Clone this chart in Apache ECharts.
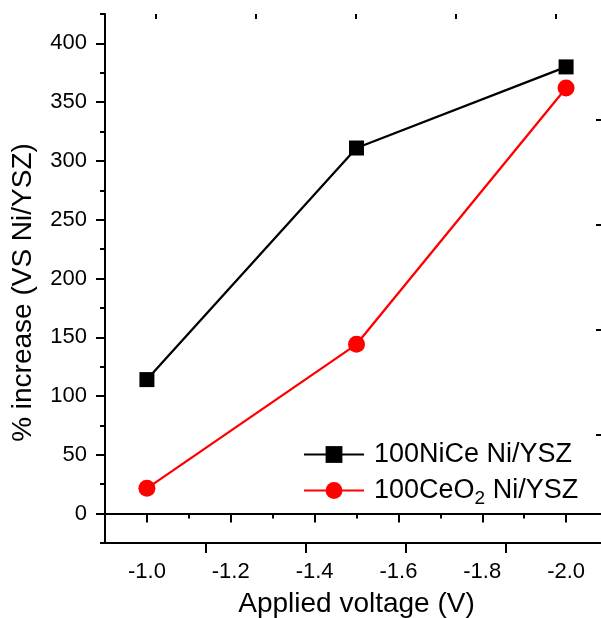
<!DOCTYPE html>
<html>
<head>
<meta charset="utf-8">
<script src="https://cdn.jsdelivr.net/npm/echarts@6/dist/echarts.min.js"></script>
<style>
html,body{margin:0;padding:0;background:#fff;}
#chart{width:601px;height:618px;}
</style>
</head>
<body>
<div id="chart"></div>
<script>
// ---- data ----
const voltages = [-1.0, -1.5, -2.0];
const niCeValues = [114, 311, 380];
const ceo2Values = [21.5, 144, 362];
const seriesNames = ['100NiCe Ni/YSZ', '100CeO2 Ni/YSZ'];
const xMajorTicks = [-1.0, -1.2, -1.4, -1.6, -1.8, -2.0];
const xMinorTicks = [-0.9, -1.1, -1.3, -1.5, -1.7, -1.9, -2.1];
const yMajorTicks = [0, 50, 100, 150, 200, 250, 300, 350, 400];
const yMinorTicks = [-25, 25, 75, 125, 175, 225, 275, 325, 375, 425];
const topMajorTicks = [101, 201, 301, 401];
const topMinorTicks = [51, 151, 251, 351, 451];
const rightMajorTicks = [108, 213, 318, 423];

const FONT = 'Liberation Sans';
const BLACK = '#000000';
const RED = '#ff0000';
const TICK_FONT = 22;

const chart = echarts.init(document.getElementById('chart'), null, {renderer: 'canvas'});

const lineAxis = {show: true, lineStyle: {color: BLACK, width: 2}};
const noLine = {show: false};
const tickRich = {t: {fontSize: TICK_FONT, fontFamily: FONT, color: BLACK, lineHeight: 24}};

const option = {
  backgroundColor: '#ffffff',
  animation: false,
  textStyle: {fontFamily: FONT, color: BLACK},
  grid: {left: 105, top: 14, width: 503, height: 529, outerBoundsMode: 'none', containLabel: false},
  legend: {
    orient: 'vertical',
    left: 298,
    top: 436,
    padding: 5,
    itemWidth: 60,
    itemHeight: 21,
    itemGap: 9,
    data: seriesNames,
    lineStyle: {width: 2},
    formatter: function (name) {
      if (name === seriesNames[1]) return '{a|100CeO}{s|2}{a| Ni/YSZ}';
      return '{a|' + name + '}';
    },
    textStyle: {
      color: BLACK,
      fontFamily: FONT,
      padding: [0, 0, 0, 5],
      rich: {
        a: {fontSize: 27, lineHeight: 36, fontFamily: FONT, color: BLACK},
        s: {fontSize: 19, lineHeight: 18, verticalAlign: 'bottom', fontFamily: FONT, color: BLACK}
      }
    }
  },
  xAxis: [
    {
      type: 'value', position: 'bottom', inverse: true, min: -2.1, max: -0.9,
      axisLine: lineAxis,
      axisTick: {show: true, inside: false, length: 9, lineStyle: {color: BLACK, width: 2}, customValues: xMajorTicks},
      axisLabel: {show: true, margin: 17, fontSize: TICK_FONT, color: BLACK, fontFamily: FONT, customValues: xMajorTicks,
        rich: tickRich,
        formatter: function (v) { return '{t|' + Number(v).toFixed(1) + '}'; }},
      splitLine: {show: false},
      name: 'Applied voltage (V)', nameLocation: 'middle', nameGap: 47,
      nameTextStyle: {fontSize: 28, color: BLACK, fontFamily: FONT}
    },
    {
      type: 'value', position: 'bottom', inverse: true, min: -2.1, max: -0.9,
      axisLine: noLine,
      axisTick: {show: true, inside: false, length: 5, lineStyle: {color: BLACK, width: 2}, customValues: xMinorTicks},
      axisLabel: {show: false}, splitLine: {show: false}
    },
    {
      type: 'value', position: 'top', min: 0, max: 503,
      axisLine: lineAxis,
      axisTick: {show: true, inside: true, length: 10, lineStyle: {color: BLACK, width: 2}, customValues: topMajorTicks},
      axisLabel: {show: false}, splitLine: {show: false}
    },
    {
      type: 'value', position: 'top', min: 0, max: 503,
      axisLine: noLine,
      axisTick: {show: true, inside: true, length: 5, lineStyle: {color: BLACK, width: 2}, customValues: topMinorTicks},
      axisLabel: {show: false}, splitLine: {show: false}
    }
  ],
  yAxis: [
    {
      type: 'value', position: 'left', min: -25, max: 425,
      axisLine: lineAxis,
      axisTick: {show: true, inside: false, length: 9, lineStyle: {color: BLACK, width: 2}, customValues: yMajorTicks},
      axisLabel: {show: true, margin: 18, fontSize: TICK_FONT, color: BLACK, fontFamily: FONT, customValues: yMajorTicks,
        rich: tickRich,
        formatter: function (v) { return '{t|' + v + '}'; }},
      splitLine: {show: false},
      name: '% increase (VS Ni/YSZ)', nameLocation: 'middle', nameGap: 68,
      nameTextStyle: {fontSize: 28, color: BLACK, fontFamily: FONT, padding: [0, 28, 0, 0]}
    },
    {
      type: 'value', position: 'left', min: -25, max: 425,
      axisLine: noLine,
      axisTick: {show: true, inside: false, length: 5, lineStyle: {color: BLACK, width: 2}, customValues: yMinorTicks},
      axisLabel: {show: false}, splitLine: {show: false}
    },
    {
      type: 'value', position: 'right', min: 0, max: 529,
      axisLine: lineAxis,
      axisTick: {show: true, inside: true, length: 12, lineStyle: {color: BLACK, width: 2}, customValues: rightMajorTicks},
      axisLabel: {show: false}, splitLine: {show: false}
    }
  ],
  series: [
    {
      name: seriesNames[0], type: 'line', xAxisIndex: 0, yAxisIndex: 0,
      data: voltages.map(function (x, i) { return [x, niCeValues[i]]; }),
      symbol: 'rect', symbolSize: 15,
      itemStyle: {color: BLACK},
      lineStyle: {color: BLACK, width: 2.3},
      z: 3
    },
    {
      name: seriesNames[1], type: 'line', xAxisIndex: 0, yAxisIndex: 0,
      data: voltages.map(function (x, i) { return [x, ceo2Values[i]]; }),
      symbol: 'circle', symbolSize: 17,
      itemStyle: {color: RED},
      lineStyle: {color: RED, width: 2.3},
      z: 2
    }
  ]
};
chart.setOption(option);
</script>
</body>
</html>
